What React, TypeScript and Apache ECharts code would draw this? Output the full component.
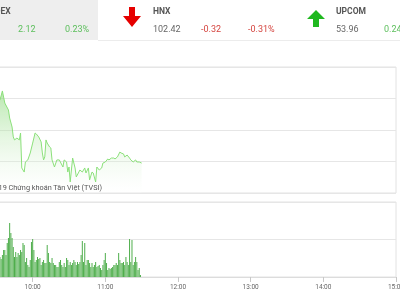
import React, { useEffect, useRef } from "react";
import * as echarts from "echarts";

// ---- header data ----
const indexNames = ["VNINDEX", "HNX", "UPCOM"];
const indexValues = ["", "102.42", "53.96"];
const indexChanges = ["2.12", "-0.32", "0.24"];
const indexPercents = ["0.23%", "-0.31%", ""];
const indexUp = [true, false, true];

// ---- x axis ticks (minutes since 09:00) ----
const hourLabels = ["9:00", "10:00", "11:00", "12:00", "13:00", "14:00", "15:00"];

// ---- price line (minutes since 09:00, index points) ----
const priceMinutes = [
  15, 33, 35, 37, 40, 41, 43, 44, 45, 47, 49, 50, 51, 53, 54, 56, 58, 60, 62, 63,
  65, 67, 68, 69, 70, 71, 72, 74, 75, 76, 78, 80, 82, 85, 86, 88, 89, 90, 91, 93,
  95, 96, 99, 101, 103, 104, 106, 107, 109, 110, 112, 113, 115, 117, 118, 120, 122, 123, 125, 127,
  128, 130, 132, 133, 135, 136, 138, 140, 141, 143, 145, 146, 148, 150,
];
const priceValues = [
  927.3, 927.9, 928.48, 927.71, 927.27, 926.76, 926.19, 925.56, 925.37, 925.49, 925.37, 925.81, 923.59, 923.33, 923.97, 924.1, 924.54, 925.17, 925.81, 925.75,
  925.56, 925.24, 924.54, 924.1, 924.29, 925.37, 925.17, 924.92, 924.86, 924.1, 923.65, 924.1, 924.1, 923.65, 924.1, 923.97, 923.33, 923.65, 922.7, 924.22,
  923.59, 923.02, 923.46, 923.33, 923.59, 923.27, 923.59, 922.83, 923.33, 923.27, 922.7, 923.65, 923.46, 923.59, 923.9, 923.97, 924.16, 924.1, 924.22, 924.22,
  924.16, 924.29, 924.6, 924.54, 924.48, 924.29, 924.41, 924.22, 924.1, 923.97, 924.1, 923.97, 923.97, 923.9,
];

// ---- volume bars (minutes since 09:00, thousand shares) ----
const volumeMinutes = Array.from({ length: 117 }, (_, i) => 33 + i);
const volumeValues = [
  800, 720, 880, 1080, 1080, 880, 1360, 1560, 2160, 1760, 1560, 1200, 800, 1000, 800, 960, 880, 1080, 1000, 1360,
  1280, 600, 760, 480, 400, 680, 1400, 1520, 1080, 600, 680, 800, 720, 760, 480, 600, 680, 560, 560, 1280,
  960, 600, 560, 760, 560, 480, 480, 400, 400, 600, 680, 480, 400, 560, 400, 760, 680, 480, 600, 480,
  560, 680, 600, 480, 600, 520, 600, 880, 1440, 600, 1360, 480, 680, 680, 560, 400, 560, 400, 480, 600,
  400, 440, 480, 360, 280, 480, 680, 960, 560, 280, 360, 320, 360, 400, 480, 480, 560, 480, 960, 680,
  560, 560, 600, 480, 800, 600, 480, 1520, 600, 1480, 480, 600, 800, 600, 280, 360, 80,
];

const watermark = "© 2019 Chứng khoán Tân Việt (TVSI)";

echarts.graphic.registerShape("arrowDown", echarts.graphic.extendPath("M6 0H12V9H18L9 20L0 9H6Z", {}));
echarts.graphic.registerShape("arrowUp", echarts.graphic.extendPath("M9 0L18 9H12V17H6V9H0Z", {}));

const FONT = "Roboto";
const GREEN = "#5cbf5c";
const RED = "#d5443f";

export default function App() {
  const ref = useRef<HTMLDivElement>(null);
  useEffect(() => {
    if (!ref.current) return;
    const chart = echarts.init(ref.current, null, { renderer: "svg" });

    const colX = [-30, 153, 336];
    const nameX = [-25, 153, 336];
    const header: any[] = [
      { type: "rect", shape: { x: 0, y: 0, width: 98, height: 40 }, style: { fill: "#eeeeee" }, z: 0 },
      { type: "line", shape: { x1: 98, y1: 40.5, x2: 400, y2: 40.5 }, style: { stroke: "#ececec", lineWidth: 1 } },
    ];
    indexNames.forEach((name, i) => {
      const x = colX[i];
      header.push({
        type: "text", x: nameX[i], y: 11,
        style: { text: name, fill: "#555", fontSize: 8.5, fontWeight: "bold", fontFamily: FONT, align: "left", verticalAlign: "middle" },
      });
      if (indexValues[i]) {
        header.push({
          type: "text", x, y: 29,
          style: { text: indexValues[i], fill: "#666", fontSize: 9, fontFamily: FONT, align: "left", verticalAlign: "middle" },
        });
      }
      const c = indexUp[i] ? GREEN : RED;
      header.push({
        type: "text", x: x + 48, y: 29,
        style: { text: indexChanges[i], fill: c, fontSize: 9, fontFamily: FONT, align: "left", verticalAlign: "middle" },
      });
      if (indexPercents[i]) {
        header.push({
          type: "text", x: x + 95, y: 29,
          style: { text: indexPercents[i], fill: c, fontSize: 9, fontFamily: FONT, align: "left", verticalAlign: "middle" },
        });
      }
      header.push(
        indexUp[i]
          ? { type: "arrowUp", x: x - 29, y: 10, style: { fill: "#1fb81f" } }
          : { type: "arrowDown", x: x - 30, y: 7, style: { fill: "#e60000" } }
      );
    });
    header.push({
      type: "text", x: 102, y: 187, z: 100,
      style: { text: watermark, fill: "#555", fontSize: 7.3, fontFamily: FONT, align: "right", verticalAlign: "middle" },
    });

    const xCommon = { type: "value", min: 0, max: 360, interval: 60 };
    chart.setOption({
      animation: false,
      textStyle: { fontFamily: FONT },
      grid: [
        { left: -40, right: 4, top: 67, height: 126, show: true, borderColor: "#e2e2e2", borderWidth: 1, containLabel: false, outerBoundsMode: "none" },
        { left: -40, right: 4, top: 202, height: 75, show: true, borderColor: "#e2e2e2", borderWidth: 1, containLabel: false, outerBoundsMode: "none" },
      ],
      xAxis: [
        { ...xCommon, gridIndex: 0, axisLine: { show: false }, axisTick: { show: false }, axisLabel: { show: false }, splitLine: { show: false } },
        {
          ...xCommon, gridIndex: 1,
          axisLine: { show: true, lineStyle: { color: "#dcdcdc" } },
          axisTick: { show: true, length: 5, lineStyle: { color: "#c8c8c8" } },
          axisLabel: {
            show: true, showMinLabel: false, fontSize: 6.5, color: "#666", margin: 6,
            formatter: (v: number) => hourLabels[Math.round(v / 60)],
          },
          splitLine: { show: false },
        },
      ],
      yAxis: [
        {
          type: "value", gridIndex: 0, min: 922, max: 930, interval: 2, position: "right",
          axisLine: { show: false }, axisTick: { show: false }, axisLabel: { show: false },
          splitLine: { show: true, lineStyle: { color: "#e6e6e6" } },
        },
        {
          type: "value", gridIndex: 1, min: 0, max: 3000, interval: 1500, position: "right",
          axisLine: { show: false }, axisTick: { show: false }, axisLabel: { show: false },
          splitLine: { show: true, lineStyle: { color: "#e6e6e6" } },
        },
      ],
      series: [
        {
          type: "line", xAxisIndex: 0, yAxisIndex: 0,
          data: priceMinutes.map((m, i) => [m, priceValues[i]]),
          showSymbol: false, symbol: "none",
          lineStyle: { color: "#8be07a", width: 1 },
          areaStyle: {
            origin: "start",
            color: new echarts.graphic.LinearGradient(0, 0, 0, 1, [
              { offset: 0, color: "rgba(120,210,100,0.75)" },
              { offset: 1, color: "rgba(255,255,255,0.2)" },
            ]),
          },
        },
        {
          type: "bar", xAxisIndex: 1, yAxisIndex: 1,
          data: volumeMinutes.map((m, i) => [m, volumeValues[i]]),
          barWidth: 1,
          itemStyle: { color: "#4fae4c" },
        },
      ],
      graphic: header,
    });
    return () => chart.dispose();
  }, []);
  return <div ref={ref} style={{ position: "fixed", left: 0, top: 0, width: 400, height: 300 }} />;
}
